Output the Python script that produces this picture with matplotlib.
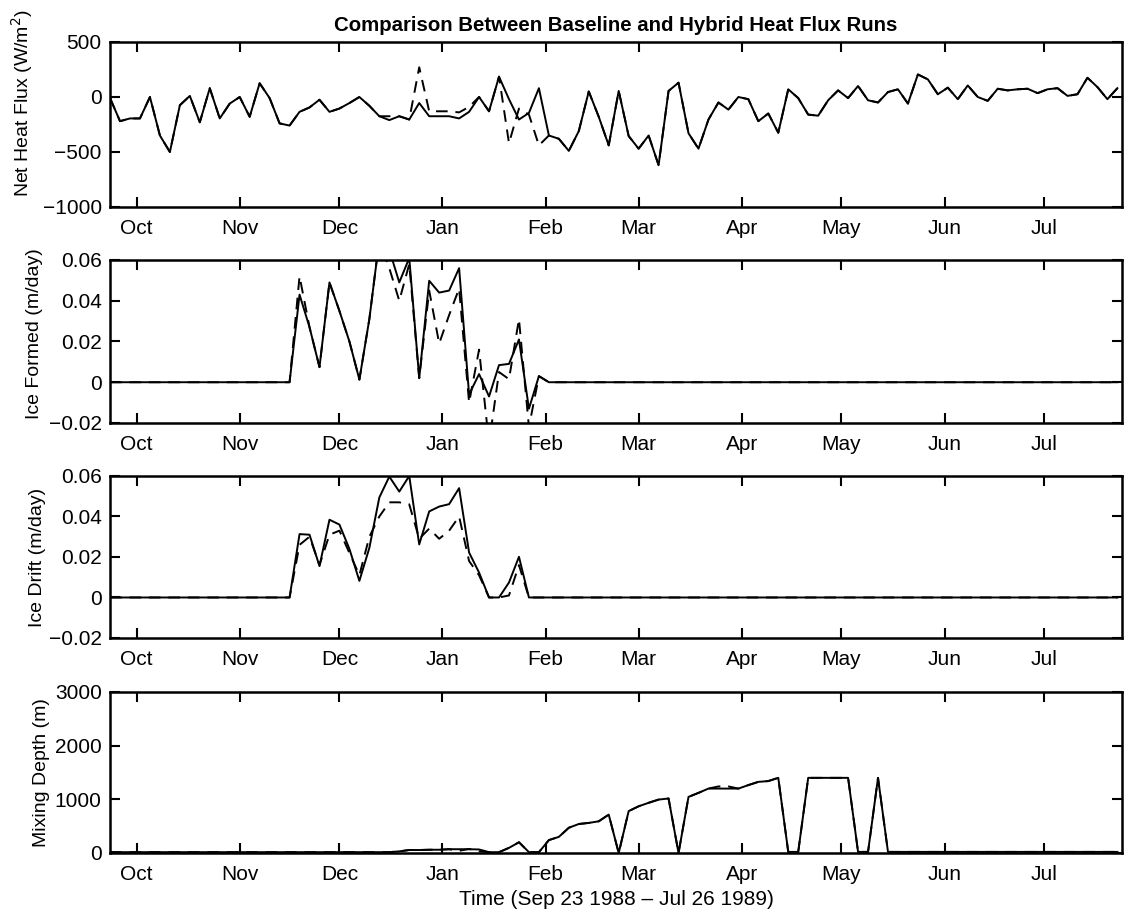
import numpy as np
import pandas as pd
import matplotlib
matplotlib.use('Agg')
import matplotlib.pyplot as plt
import matplotlib.dates as mdates
from matplotlib.ticker import FuncFormatter

plt.rcParams['font.family'] = ['Liberation Sans', 'DejaVu Sans']

# model output every 3 days, Sep 23 1988 onwards
dates = pd.date_range('1988-09-23', periods=102, freq='3D')

# net surface heat flux (W/m^2)
flux_base = [-10, -220, -195, -195, 0, -350, -500, -75, 10, -230,
             80, -195, -60, 0, -180, 125, -10, -240, -260, -135,
             -95, -25, -135, -105, -55, 0, -80, -175, -210, -175,
             -205, -55, -175, -175, -175, -195, -135, 0, -130, 185,
             -20, -205, -145, 80, -350, -380, -490, -310, 50, -180,
             -440, 55, -355, -470, -350, -620, 55, 130, -330, -470,
             -205, -50, -115, 0, -20, -220, -150, -325, 70, -10,
             -160, -170, -30, 60, -10, 100, -30, -50, 45, 70,
             -60, 205, 160, 25, 85, -20, 105, 0, -35, 75,
             60, 70, 75, 35, 70, 80, 10, 25, 175, 90,
             -20, 80]
flux_hybrid = [-10, -220, -195, -195, 0, -350, -500, -75, 10, -230,
               80, -195, -60, 0, -180, 125, -10, -240, -260, -135,
               -95, -25, -135, -105, -55, 0, -80, -175, -175, -175,
               -205, 270, -130, -130, -130, -140, -90, 0, -130, 185,
               -420, -105, -160, -440, -350, -380, -490, -310, 50, -180,
               -440, 55, -355, -470, -350, -620, 55, 130, -330, -470,
               -205, -50, -115, 0, -20, -220, -150, -325, 70, -10,
               -160, -170, -30, 60, -10, 100, -30, -50, 45, 70,
               -60, 205, 160, 25, 85, -20, 105, 0, -35, 75,
               60, 70, 75, 35, 70, 80, 10, 25, 175, 90,
               -20, 80]

# ice formed (m/day), nonzero Nov - Feb
formed_base_winter = [0.043, 0.027, 0.0074, 0.049, 0.035, 0.020, 0.0013, 0.031,
                      0.070, 0.065, 0.049, 0.061, 0.002, 0.0498, 0.044, 0.045,
                      0.056, -0.006, 0.004, -0.007, 0.0084, 0.009, 0.021, -0.013,
                      0.003]
formed_hybrid_winter = [0.052, 0.027, 0.0074, 0.049, 0.035, 0.020, 0.0013, 0.031,
                        0.070, 0.056, 0.040, 0.058, 0.002, 0.045, 0.019, 0.033,
                        0.046, -0.010, 0.016, -0.030, 0.005, 0.0015, 0.031, -0.022,
                        0.003]

# ice drift (m/day)
drift_base_winter = [0.0313, 0.031, 0.0155, 0.0384, 0.036, 0.024, 0.0082, 0.0245,
                     0.0494, 0.0597, 0.0523, 0.060, 0.0262, 0.0425, 0.0449, 0.0461,
                     0.054, 0.0222, 0.0123, 0.0, 0.0, 0.0074, 0.0201, 0.0,
                     0.0]
drift_hybrid_winter = [0.026, 0.030, 0.016, 0.031, 0.033, 0.022, 0.011, 0.030,
                       0.040, 0.047, 0.047, 0.046, 0.029, 0.034, 0.029, 0.033,
                       0.040, 0.018, 0.011, 0.0, 0.0, 0.001, 0.016, 0.0,
                       0.0]

formed_base = [0.0] * 19 + formed_base_winter + [0.0] * 58
formed_hybrid = [0.0] * 19 + formed_hybrid_winter + [0.0] * 58
drift_base = [0.0] * 19 + drift_base_winter + [0.0] * 58
drift_hybrid = [0.0] * 19 + drift_hybrid_winter + [0.0] * 58

# mixed layer depth (m)
depth_base = [15] * 29 + [30, 55, 55, 60, 60, 70, 70, 70, 65, 15,
                          15, 95, 200, 15, 15, 240, 300, 470, 540, 560,
                          590, 715, 0, 780, 870, 935, 995, 1015, 0, 1045,
                          1120, 1200, 1200, 1200, 1200, 1265, 1325, 1340, 1400, 20,
                          20, 1400, 1400, 1400, 1400, 1400, 20, 20, 1400, 20] + [20] * 23
depth_hybrid = [15] * 29 + [30, 55, 55, 60, 60, 70, 40, 75, 30, 15,
                            15, 95, 200, 15, 15, 240, 300, 470, 540, 560,
                            590, 715, 0, 780, 870, 935, 995, 1015, 0, 1045,
                            1120, 1200, 1240, 1240, 1200, 1265, 1325, 1340, 1400, 20,
                            20, 1400, 1400, 1400, 1400, 1400, 20, 20, 1400, 20] + [20] * 23

panels = [
    ('Net Heat Flux (W/m$^2$)', flux_base, flux_hybrid, (-1000, 500), [-1000, -500, 0, 500]),
    ('Ice Formed (m/day)', formed_base, formed_hybrid, (-0.02, 0.06), [-0.02, 0, 0.02, 0.04, 0.06]),
    ('Ice Drift (m/day)', drift_base, drift_hybrid, (-0.02, 0.06), [-0.02, 0, 0.02, 0.04, 0.06]),
    ('Mixing Depth (m)', depth_base, depth_hybrid, (0, 3000), [0, 1000, 2000, 3000]),
]

# axes boxes in figure fraction: left, bottom, width, height
boxes = [
    [0.0979, 0.7728, 0.9004, 0.1811],
    [0.0979, 0.5357, 0.9004, 0.1789],
    [0.0979, 0.2997, 0.9004, 0.1778],
    [0.0979, 0.0637, 0.9004, 0.1767],
]
# y label anchors (axes coords)
label_xy = [(-0.074, 0.63), (-0.066, 0.55), (-0.063, 0.5), (-0.059, 0.5)]

fmt = FuncFormatter(lambda v, p: ('%g' % v).replace('-', '\u2212'))

fig = plt.figure(figsize=(11.24, 9.11), dpi=100)
axes = []
for (label, base, hybrid, ylim, yticks), box, lxy in zip(panels, boxes, label_xy):
    ax = fig.add_axes(box)
    ax.plot(dates, hybrid, color='black', lw=1.4, linestyle=(0, (6, 4)))
    ax.plot(dates, base, color='black', lw=1.4)
    ax.set_xlim(pd.Timestamp('1988-09-23'), pd.Timestamp('1989-07-24 10:00'))
    ax.set_ylim(*ylim)
    ax.set_yticks(yticks)
    ax.yaxis.set_major_formatter(fmt)
    ax.xaxis.set_major_locator(mdates.MonthLocator())
    ax.xaxis.set_major_formatter(mdates.DateFormatter('%b'))
    ax.tick_params(direction='in', top=True, right=True, length=7, width=1.5,
                   labelsize=15)
    ax.tick_params(axis='x', pad=9)
    ax.tick_params(axis='y', pad=6)
    for s in ax.spines.values():
        s.set_linewidth(1.8)
    ax.set_ylabel(label, fontsize=14)
    ax.yaxis.set_label_coords(*lxy)
    axes.append(ax)

axes[0].set_title('Comparison Between Baseline and Hybrid Heat Flux Runs',
                  fontsize=14.7, fontweight='bold', pad=8)
axes[-1].set_xlabel('Time (Sep 23 1988 \u2013 Jul 26 1989)', fontsize=15, labelpad=4)

fig.savefig('out.png', dpi=100)
